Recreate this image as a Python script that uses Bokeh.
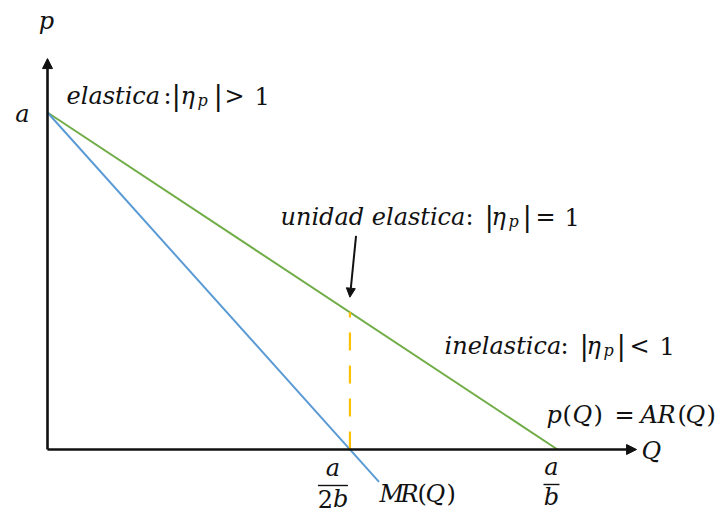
from bokeh.plotting import figure
from bokeh.models import Range1d, Arrow, NormalHead, ColumnDataSource
from bokeh.core.properties import value
from bokeh.embed import file_html
from bokeh.resources import INLINE

# Linear demand p(Q) = a - bQ and its marginal revenue MR(Q) = a - 2bQ
price_intercept = 10.0      # a  (price axis intercept)
q_ar = 10.0                 # a/b  (AR meets the Q axis)
q_mr = 5.93                 # a/2b (MR meets the Q axis)
q_mr_end = 6.5              # MR is drawn a little past the axis
q_axis_end = 11.55
p_axis_end = 11.6

ar_q = [0.0, q_ar]
ar_p = [price_intercept, 0.0]
mr_q = [0.0, q_mr_end]
mr_p = [price_intercept, price_intercept * (1 - q_mr_end / q_mr)]
p_unit = price_intercept * (1 - q_mr / q_ar)   # price where |eta_p| = 1

# screen <-> data mapping of the frame
X0, Y0, SX, SY = 47.0, 449.0, 51.0, 33.7
W, H = 720, 514
TEXT_SHIFT = -7   # baseline correction for the text glyphs


def dx(px):
    return (px - X0) / SX


def dy(py):
    return (Y0 - py) / SY


p = figure(width=W, height=H, output_backend="svg", toolbar_location=None,
           x_range=Range1d(dx(0), dx(W)), y_range=Range1d(dy(H), dy(0)),
           min_border=0, outline_line_color=None, background_fill_color="white")
p.axis.visible = False
p.grid.visible = False

BLACK = "#111111"

# coordinate axes with arrowheads
p.add_layout(Arrow(x_start=0, y_start=0, x_end=q_axis_end, y_end=0,
                   line_width=2.6, line_color=BLACK,
                   end=NormalHead(size=10, fill_color=BLACK, line_color=BLACK)))
p.add_layout(Arrow(x_start=0, y_start=0, x_end=0, y_end=p_axis_end,
                   line_width=2.6, line_color=BLACK,
                   end=NormalHead(size=10, fill_color=BLACK, line_color=BLACK)))

# demand (average revenue) and marginal revenue
p.line(ar_q, ar_p, line_color="#70AD47", line_width=2)
p.line(mr_q, mr_p, line_color="#5B9BD5", line_width=2)

# unit-elastic point
p.line([q_mr, q_mr], [0, p_unit], line_color="#FFC000", line_width=2.2,
       line_dash="18 15")
p.add_layout(Arrow(x_start=q_mr + 0.12, y_start=p_unit + 2.27,
                   x_end=q_mr, y_end=p_unit + 0.45,
                   line_width=2, line_color=BLACK,
                   end=NormalHead(size=9, fill_color=BLACK, line_color=BLACK)))

# fraction bars for a/2b and a/b
p.segment(x0=[q_mr - 32 / SX, q_ar - 14 / SX], y0=[dy(485), dy(484)],
          x1=[q_mr - 2 / SX, q_ar + 2 / SX], y1=[dy(485), dy(484)],
          line_color=BLACK, line_width=1.4)

# text pieces: (x_px, baseline_px, text, size_px, italic, align)
MAIN = 24
SUB = 16
BAR = 28
x_mr = q_mr * SX + X0 - 17
x_ar = q_ar * SX + X0 - 6
pieces = [
    # axis names and tick labels
    (46, 27, "p", MAIN, True, "center"),
    (29, 120, "a", MAIN, True, "right"),
    (641, 457, "Q", MAIN, True, "left"),
    (x_mr, 474, "a", MAIN, True, "center"),
    (x_mr, 505, "2", MAIN, False, "right"),
    (x_mr, 505, "b", MAIN, True, "left"),
    (x_ar, 473, "a", MAIN, True, "center"),
    (x_ar, 503, "b", MAIN, True, "center"),
    # elastic region
    (66, 102, "elastica", MAIN, True, "left"),
    (163, 102, ":", MAIN, False, "left"),
    (171, 102, "|", BAR, False, "left"),
    (180, 102, "η", MAIN, True, "left"),
    (197, 107, "p", SUB, True, "left"),
    (213, 102, "|", BAR, False, "left"),
    (224, 102, ">", MAIN, False, "left"),
    (254, 102, "1", MAIN, False, "left"),
    # unit elastic
    (280, 223, "unidad elastica", MAIN, True, "left"),
    (465, 223, ":", MAIN, False, "left"),
    (484, 223, "|", BAR, False, "left"),
    (491, 223, "η", MAIN, True, "left"),
    (508, 228, "p", SUB, True, "left"),
    (522, 223, "|", BAR, False, "left"),
    (535, 223, "=", MAIN, False, "left"),
    (564, 223, "1", MAIN, False, "left"),
    # inelastic region
    (444, 352, "inelastica", MAIN, True, "left"),
    (560, 352, ":", MAIN, False, "left"),
    (579, 352, "|", BAR, False, "left"),
    (586, 352, "η", MAIN, True, "left"),
    (603, 357, "p", SUB, True, "left"),
    (616, 352, "|", BAR, False, "left"),
    (629, 352, "<", MAIN, False, "left"),
    (659, 352, "1", MAIN, False, "left"),
    # curve names
    (546, 421, "p", MAIN, True, "left"),
    (562, 421, "(", MAIN, False, "left"),
    (572, 421, "Q", MAIN, True, "left"),
    (593, 421, ")", MAIN, False, "left"),
    (614, 421, "=", MAIN, False, "left"),
    (640, 421, "A", MAIN, True, "left"),
    (657, 421, "R", MAIN, True, "left"),
    (677, 421, "(", MAIN, False, "left"),
    (685, 421, "Q", MAIN, True, "left"),
    (706, 421, ")", MAIN, False, "left"),
    (379, 500, "M", MAIN, True, "left"),
    (400, 500, "R", MAIN, True, "left"),
    (417, 500, "(", MAIN, False, "left"),
    (425, 500, "Q", MAIN, True, "left"),
    (446, 500, ")", MAIN, False, "left"),
]

groups = {}
for x_px, y_px, txt, size, italic, align in pieces:
    key = (size, italic, align)
    g = groups.setdefault(key, {"x": [], "y": [], "t": []})
    g["x"].append(dx(x_px))
    g["y"].append(dy(y_px + TEXT_SHIFT))
    g["t"].append(txt)

for (size, italic, align), g in groups.items():
    p.text(x="x", y="y", text="t", source=ColumnDataSource(g),
           text_font=value("DejaVu Serif"),
           text_font_style="italic" if italic else "normal",
           text_font_size=f"{size}px", text_color=BLACK,
           text_align=align, text_baseline="alphabetic")

open("out.html", "w").write(file_html(p, INLINE))
